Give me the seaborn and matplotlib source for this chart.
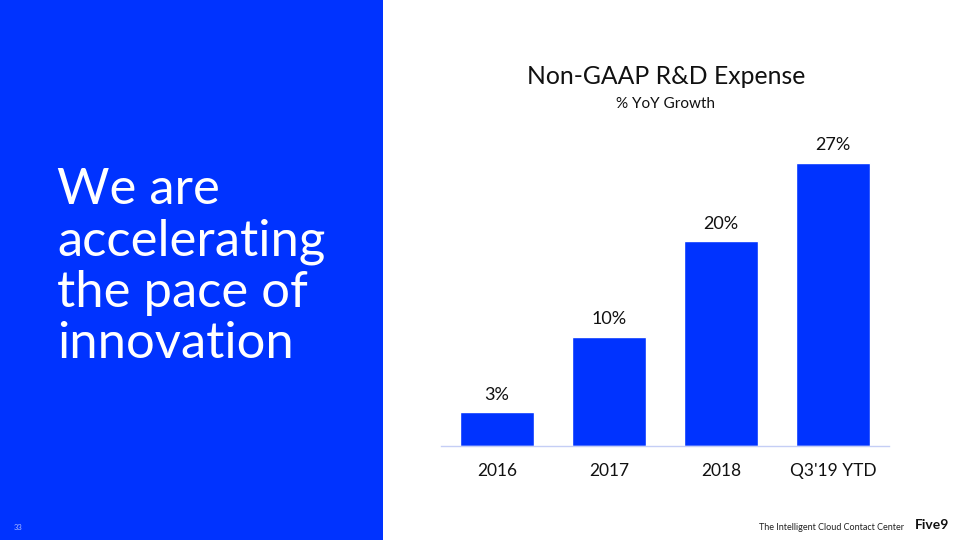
import matplotlib
matplotlib.use("Agg")
import matplotlib.pyplot as plt
from matplotlib.patches import Rectangle
import seaborn as sns
import pandas as pd

categories = ["2016", "2017", "2018", "Q3'19 YTD"]
growth = [3.2, 10.4, 19.5, 27.0]
labels = ["3%", "10%", "20%", "27%"]

BLUE = "#0033FF"
FONT = ["Lato", "DejaVu Sans"]

sns.set_theme(style="white")
plt.rcParams["font.family"] = FONT

fig = plt.figure(figsize=(9.6, 5.4), dpi=100)
fig.patch.set_facecolor("white")
fig.add_artist(Rectangle((0, 0), 383 / 960, 1, transform=fig.transFigure,
                         facecolor=BLUE, edgecolor="none", zorder=0))

ax = fig.add_axes([441 / 960, 94 / 540, 448 / 960, 315 / 540])
ax.set_facecolor("none")
df = pd.DataFrame({"cat": categories, "val": growth})
sns.barplot(data=df, x="cat", y="val", color=BLUE, saturation=1, width=0.66, ax=ax)
ax.set_xlim(-0.5, 3.5)
ax.set_ylim(0, 30)
for i, (v, lab) in enumerate(zip(growth, labels)):
    ax.text(i, v + 0.9, lab, ha="center", va="bottom", fontsize=13, color="#111111")
ax.set_xlabel("")
ax.set_ylabel("")
ax.set_yticks([])
ax.tick_params(axis="x", length=0, pad=12, labelsize=12.5, colors="#111111")
for s in ["top", "right", "left"]:
    ax.spines[s].set_visible(False)
ax.spines["bottom"].set_color("#C5CEF5")
ax.spines["bottom"].set_linewidth(1)

fig.text(666 / 960, 1 - 77 / 540, "Non-GAAP R&D Expense", ha="center", va="center",
         fontsize=17.8, color="#111111")
fig.text(666 / 960, 1 - 104 / 540, "% YoY Growth", ha="center", va="center",
         fontsize=11, color="#111111")

fig.text(57 / 960, 1 - 267 / 540, "We are\naccelerating\nthe pace of\ninnovation",
         ha="left", va="center", fontsize=36.5, color="white", linespacing=1.145)

fig.text(18 / 960, 1 - 527 / 540, "33", ha="center", va="center", fontsize=5.5,
         color="#A8B8FF")
fig.text(904 / 960, 1 - 527 / 540, "The Intelligent Cloud Contact Center", ha="right",
         va="center", fontsize=6.5, color="#222222")
fig.text(932 / 960, 1 - 525 / 540, "Five9", ha="center", va="center", fontsize=10,
         fontweight="bold", color="#111111")

fig.savefig("out.png", dpi=100)
